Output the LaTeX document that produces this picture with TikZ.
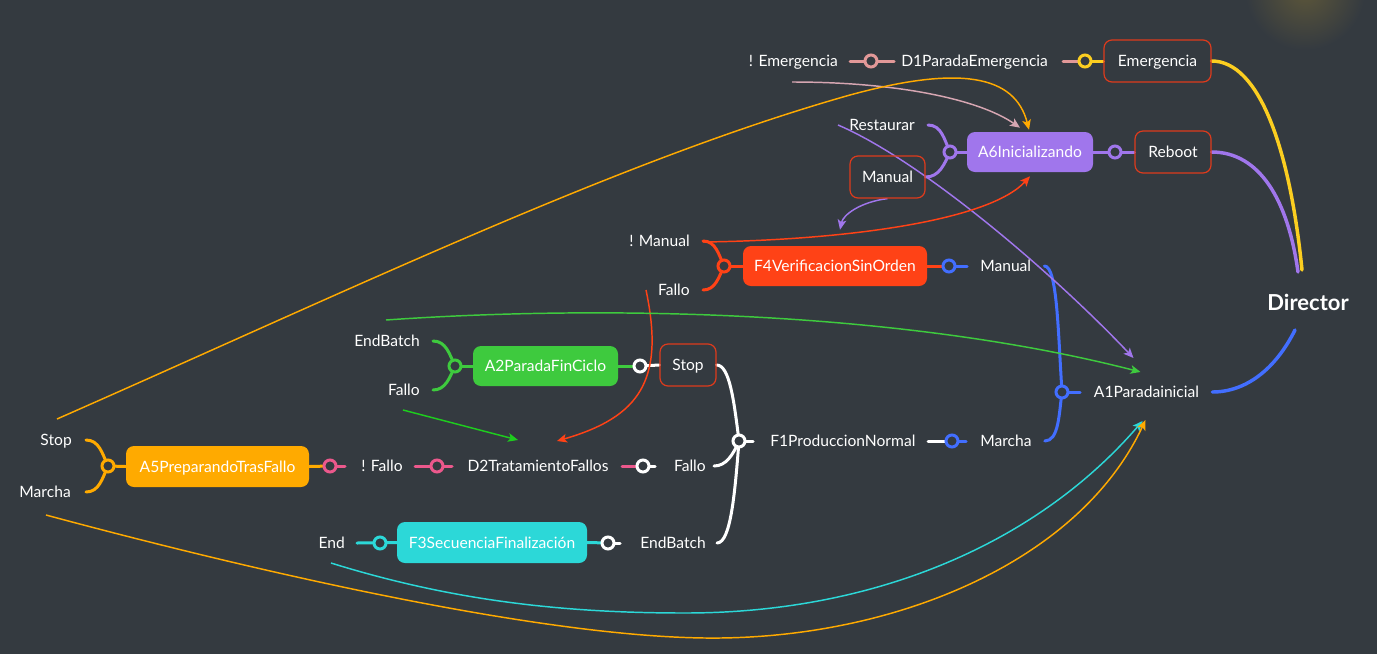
\documentclass[tikz,border=0pt]{standalone}
\usepackage{fontspec}
\setmainfont{Lato}
\usetikzlibrary{arrows.meta,calc}
\pgfdeclarelayer{bottom}
\pgfdeclarelayer{wires}
\pgfsetlayers{bottom,wires,main}
\definecolor{bg}{RGB}{52,58,64}
\definecolor{glow}{RGB}{92,86,58}
\definecolor{evred}{RGB}{222,58,28}
\definecolor{cPink}{RGB}{226,152,152}
\definecolor{cYel}{RGB}{252,206,32}
\definecolor{cPur}{RGB}{160,118,236}
\definecolor{cRed}{RGB}{255,66,22}
\definecolor{cBlue}{RGB}{66,110,255}
\definecolor{cGreen}{RGB}{62,202,62}
\definecolor{cOrange}{RGB}{255,170,0}
\definecolor{cPinkB}{RGB}{236,88,140}
\definecolor{cCyan}{RGB}{44,216,216}
\definecolor{cPinkThin}{RGB}{214,166,178}
\definecolor{cGreenThin}{RGB}{30,205,30}
\tikzset{
  lbl/.style={text=white, font=\fontsize{11.7}{13}\selectfont, inner sep=0pt, text height=8.4pt, text depth=0pt},
  sbox/.style={lbl, rounded corners=6pt, minimum height=30pt},
  ebox/.style={lbl, draw=evred, line width=0.9pt, rounded corners=6pt, minimum height=31.5pt},
  jn/.style={circle, fill=bg, draw=#1, line width=2.25pt, minimum size=9pt, inner sep=0pt},
  wr/.style={line width=2.25pt, draw=#1, line cap=round},
  fl/.style={line width=1.1pt, draw=#1, -{Stealth[length=7.5pt,width=6.5pt,inset=1.8pt]}},
}
\begin{document}
\begin{tikzpicture}[x=0.75pt,y=-0.75pt]
\useasboundingbox (0,0) rectangle (1377,654);
\begin{pgfonlayer}{bottom}
\fill[bg] (0,0) rectangle (1377,654);
\begin{scope}
\clip (0,0) rectangle (1377,654);
\shade[inner color=glow, outer color=bg] (1305,-10) circle (45pt);
\end{scope}
\end{pgfonlayer}

% ---- boxes
\node[ebox, minimum width=80.25pt] (em) at (1157.5,61) {Emergencia};
\node[ebox, minimum width=57pt] (rb) at (1173,152) {Reboot};
\node[ebox, minimum width=56.25pt] (mb) at (887.5,177) {Manual};
\node[ebox, minimum width=42pt] (sb) at (688,365) {Stop};
\node[sbox, fill=cPur, minimum width=94.5pt] (a6) at (1030,152) {A6Inicializando};
\node[sbox, fill=cRed, minimum width=138pt] (f4) at (835,266) {F4VerificacionSinOrden};
\node[sbox, fill=cGreen, minimum width=108.75pt] (a2) at (545.5,366) {A2ParadaFinCiclo};
\node[sbox, fill=cOrange, minimum width=137.25pt, minimum height=30.75pt] (a5) at (217.5,466.5) {A5PreparandoTrasFallo};
\node[sbox, fill=cCyan, minimum width=142.5pt, minimum height=30.75pt] (f3) at (492,542.5) {F3SecuenciaFinalización};

% ---- labels
\node[lbl, anchor=east] (t_nem) at (838,61) {! Emergencia};
\node[lbl, anchor=west] (d1) at (901,61) {D1ParadaEmergencia};
\node[lbl, anchor=east] (t_rest) at (915,125) {Restaurar};
\node[lbl, anchor=east] (t_nman) at (690,241) {! Manual};
\node[lbl, anchor=east] (t_f4f) at (690,290) {Fallo};
\node[lbl, anchor=west] (t_f4m) at (980,266) {Manual};
\node[lbl] (a1) at (1146.5,392) {A1Paradainicial};
\node[lbl, font=\bfseries\fontsize{16.5}{18}\selectfont, text height=12pt] (dir) at (1308,302) {Director};
\node[lbl, anchor=east] (t_a2eb) at (420,341) {EndBatch};
\node[lbl, anchor=east] (t_a2f) at (420,390) {Fallo};
\node[lbl, anchor=west] (f1) at (770,441) {F1ProduccionNormal};
\node[lbl, anchor=west] (t_f1m) at (980,441) {Marcha};
\node[lbl, anchor=east] (t_a5s) at (72,440) {Stop};
\node[lbl, anchor=east] (t_a5m) at (71,492) {Marcha};
\node[lbl] (t_nf) at (382,466) {! Fallo};
\node[lbl] (d2) at (538,466) {D2TratamientoFallos};
\node[lbl, anchor=east] (t_d2f) at (706,466) {Fallo};
\node[lbl, anchor=east] (t_end) at (345,543) {End};
\node[lbl, anchor=east] (t_f3eb) at (706,543) {EndBatch};

% ---- junction pins
\node[jn=cPink] (p1) at (871,61) {};
\node[jn=cYel] (p2) at (1085,61) {};
\node[jn=cPur] (p3) at (950,152) {};
\node[jn=cPur] (p4) at (1115,152) {};
\node[jn=cRed] (p5) at (724,266) {};
\node[jn=cBlue] (p6) at (949,266) {};
\node[jn=cBlue] (p7) at (1062,392) {};
\node[jn=cGreen] (p8) at (455,366) {};
\node[jn=white] (p9) at (640,366) {};
\node[jn=white] (p10) at (739,441) {};
\node[jn=cBlue] (p11) at (952,441) {};
\node[jn=cOrange] (p12) at (108,466) {};
\node[jn=cPinkB] (p13) at (330,466) {};
\node[jn=cPinkB] (p14) at (437,466) {};
\node[jn=white] (p15) at (643,466) {};
\node[jn=cCyan] (p16) at (380,543) {};
\node[jn=white] (p17) at (608,543) {};

% ---- free ends of the thin arrows
\coordinate (s_pink) at (792,82);
\coordinate (s_or1) at (57,419);
\coordinate (s_rest) at (838,125);
\coordinate (s_nman) at (703,242);
\coordinate (s_f4f) at (646,290);
\coordinate (s_a2) at (386,320);
\coordinate (s_a2f) at (403,410);
\coordinate (s_end) at (331,563);
\coordinate (s_or2) at (46,515);

\begin{pgfonlayer}{wires}
% D1 row
\draw[wr=cPink] ($(p1)+(-21,0)$) -- ($(p1)+(23,0)$);
\draw[wr=cPink] ($(p2)+(-22,0)$) -- (p2.center);
\draw[wr=cYel] (p2.center) -- (em.west);
% A6 row
\draw[wr=cPur] ($(t_rest.east)+(13,0)$) to[out=0,in=115] (p3.center);
\draw[wr=cPur] (mb.east) to[out=0,in=245] (p3.center);
\draw[wr=cPur] (p3.center) -- (a6.west);
\draw[wr=cPur] (a6.east) -- (rb.west);
% F4 row
\draw[wr=cRed] ($(t_nman.east)+(13,0)$) to[out=0,in=115] (p5.center);
\draw[wr=cRed] ($(t_f4f.east)+(13,0)$) to[out=0,in=245] (p5.center);
\draw[wr=cRed] (p5.center) -- (f4.west);
\draw[wr=cRed] (f4.east) -- (p6.center);
\draw[wr=cBlue] (p6.center) -- ($(p6)+(18,0)$);
% A1 junction
\draw[wr=cBlue] ($(t_f4m.east)+(13,0)$) .. controls +(13,0) and +(-4,-60) .. (p7.center);
\draw[wr=cBlue] ($(t_f1m.east)+(13,0)$) .. controls +(14,0) and +(-3,22) .. (p7.center);
\draw[wr=cBlue] (p7.center) -- ($(p7)+(18,0)$);
% A2 row
\draw[wr=cGreen] ($(t_a2eb.east)+(13,0)$) to[out=0,in=115] (p8.center);
\draw[wr=cGreen] ($(t_a2f.east)+(13,0)$) to[out=0,in=245] (p8.center);
\draw[wr=cGreen] (p8.center) -- (a2.west);
\draw[wr=cGreen] (a2.east) -- (p9.center);
\draw[wr=white] (p9.center) -- (sb.west);
% F1 junction
\draw[wr=white] (sb.east) .. controls +(13,0) and +(-5,-40) .. (p10.center);
\draw[wr=white] ($(t_d2f.east)+(8,0)$) .. controls +(12,0) and +(-6,14) .. (p10.center);
\draw[wr=white] ($(t_f3eb.east)+(11,0)$) .. controls +(14,0) and +(-4,50) .. (p10.center);
\draw[wr=white] (p10.center) -- ($(p10)+(14,0)$);
\draw[wr=white] ($(p11)+(-24,0)$) -- (p11.center);
\draw[wr=cBlue] (p11.center) -- ($(p11)+(14,0)$);
% A5 row
\draw[wr=cOrange] ($(t_a5s.east)+(14,0)$) to[out=0,in=115] (p12.center);
\draw[wr=cOrange] ($(t_a5m.east)+(15,0)$) to[out=0,in=245] (p12.center);
\draw[wr=cOrange] (p12.center) -- (a5.west);
\draw[wr=cOrange] (a5.east) -- (p13.center);
\draw[wr=cPinkB] (p13.center) -- ($(p13)+(15,0)$);
\draw[wr=cPinkB] ($(p14)+(-22,0)$) -- ($(p14)+(15,0)$);
\draw[wr=cPinkB] ($(p15)+(-21,0)$) -- (p15.center);
\draw[wr=white] (p15.center) -- ($(p15)+(12,0)$);
% F3 row
\draw[wr=cCyan] ($(p16)+(-23,0)$) -- (f3.west);
\draw[wr=cCyan] (f3.east) -- (p17.center);
\draw[wr=white] (p17.center) -- ($(p17)+(12,0)$);
% Director
\draw[wr=cYel, line width=2.6pt] (em.east) .. controls +(48,0) and (1290,150) .. ($(dir)+(-6,-32)$);
\draw[wr=cPur, line width=2.6pt] (rb.east) .. controls +(48,0) and (1288,200) .. ($(dir)+(-10,-30)$);
\draw[wr=cBlue, line width=2.6pt] ($(a1.east)+(13,0)$) .. controls +(33,0) and (1275,370) .. ($(dir)+(-13,28)$);

% ---- thin arrows
\draw[fl=cPinkThin] (s_pink) .. controls (900,82) and (980,100) .. ($(a6.north)+(-10,-4)$);
\draw[fl=cOrange] (s_or1) .. controls (350,290) and (620,160) .. (850,95) .. controls (960,65) and (1015,75) .. ($(a6.north)+(-1,-2)$);
\draw[fl=cPur] (s_rest) .. controls (920,160) and (1050,270) .. ($(a1)+(-13,-34)$);
\draw[fl=cRed] (s_nman) .. controls (850,240) and (990,220) .. ($(a6.south)+(0,4)$);
\draw[fl=cPur] (mb.south) .. controls (860,202) and (843,215) .. ($(f4.north)+(5,-16)$);
\draw[fl=cRed] (s_f4f) .. controls (665,380) and (640,417) .. ($(d2)+(19,-25)$);
\draw[fl=cGreen] (s_a2) .. controls (600,305) and (900,310) .. ($(a1)+(-6,-20)$);
\draw[fl=cGreenThin] (s_a2f) -- ($(d2)+(-20,-26)$);
\draw[fl=cCyan] (s_end) .. controls (450,600) and (560,613) .. (685,613) .. controls (880,613) and (1040,540) .. ($(a1)+(-4,29)$);
\draw[fl=cOrange] (s_or2) .. controls (250,570) and (550,640) .. (720,638) .. controls (900,636) and (1080,560) .. ($(a1)+(-1,28)$);
\end{pgfonlayer}
\end{tikzpicture}
\end{document}
